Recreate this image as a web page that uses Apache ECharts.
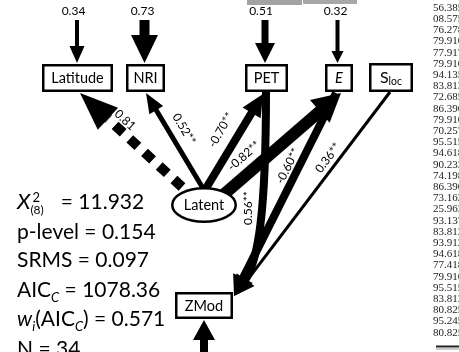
<!DOCTYPE html>
<html><head><meta charset="utf-8">
<script src="https://cdn.jsdelivr.net/npm/echarts@6/dist/echarts.min.js"></script>
<style>html,body{margin:0;padding:0;background:#fff}#c{width:459px;height:352px}</style>
</head><body><div id="c"></div>
<script>
// ---------------- values ----------------
const variables = ['Latitude', 'NRI', 'PET', 'E', 'Sloc', 'Latent', 'ZMod'];
const residualVars = ['Latitude', 'NRI', 'PET', 'E'];
const residualValues = [0.34, 0.73, 0.51, 0.32];
const pathFrom = ['Latent', 'Latent', 'Latent', 'Latent', 'PET', 'E', 'Sloc'];
const pathTo   = ['Latitude', 'NRI', 'PET', 'E', 'ZMod', 'ZMod', 'ZMod'];
const pathCoef = ['0.81', '0.52', '-0.70', '-0.82', '0.56', '-0.60', '0.36'];
const pathSig  = ['', '**', '**', '**', '**', '**', '**'];
const chiDf = 8;
const fitValues = ['11.932', '0.154', '0.097', '1078.36', '0.571', '34'];
const sideValues = ['56.385','08.575','76.278','79.910','77.917','79.910','94.135','83.813','72.685','86.390',
  '79.910','70.257','95.515','94.618','90.233','74.198','86.390','73.162','25.963','93.137','83.813','93.912',
  '94.618','77.418','79.910','95.515','83.813','80.825','95.245','80.825'];

// ---------------- layout (diagram plane, 459 x 352 units) ----------------
const nodeLayout = {
  Latitude: {kind: 'box', cx: 77.5, cy: 78, w: 71, h: 28},
  NRI:      {kind: 'box', cx: 145.5, cy: 78, w: 39, h: 28},
  PET:      {kind: 'box', cx: 266.5, cy: 78, w: 43, h: 28},
  E:        {kind: 'box', cx: 339, cy: 78, w: 28, h: 28},
  Sloc:     {kind: 'box', cx: 391, cy: 77.5, w: 44, h: 29},
  Latent:   {kind: 'ellipse', cx: 204, cy: 205, rx: 33, ry: 18},
  ZMod:     {kind: 'box', cx: 204, cy: 305.5, w: 58, h: 27}
};
const pathGeom = [
  {from: [182, 187], to: [80, 93], lw: 10, head: [38, 30], dash: [11, 9], label: [125, 120], rot: -43},
  {from: [204, 190], to: [146, 93], lw: 5, head: [20, 16], label: [184, 129], rot: -59},
  {from: [205, 190], to: [263, 94], lw: 8, head: [22, 21], label: [221, 130], rot: 60},
  {from: [222, 196], to: [341, 93], lw: 12, head: [28, 30], label: [244, 156], rot: 41},
  {from: [266, 92], c1: [266, 215], c2: [258, 262], to: [234, 296], lw: 8, head: [20, 22], label: [248, 208], rot: 90},
  {from: [336, 93], to: [234, 296], lw: 8, head: [20, 22], label: [288, 166], rot: 63},
  {from: [390, 92], to: [236, 295], lw: 3, head: [16, 14], label: [328, 158], rot: 53}
];
const residualGeom = [
  {x: 77, y0: 20, y1: 63, lw: 4, head: [17, 15], lx: 73.5},
  {x: 144.5, y0: 20, y1: 63, lw: 10, head: [28, 27], lx: 142.5},
  {x: 265, y0: 20, y1: 63, lw: 7, head: [20, 20], lx: 261},
  {x: 337.5, y0: 20, y1: 63, lw: 4, head: [12, 12], lx: 335.5}
];
const zmodInput = {from: [204, 370], to: [204, 320], lw: 8, head: [20, 22]};

const FONT = 'Lato';
const mctx = document.createElement('canvas').getContext('2d');
function fontStr(size, italic) { return (italic ? 'italic ' : '') + size + 'px ' + FONT; }
function measure(t, size, italic) { mctx.font = fontStr(size, italic); return mctx.measureText(t).width; }

function arrow(api, g) {
  const P = p => api.coord(p);
  const tip = P(g.to), start = P(g.from);
  const ref = g.c2 ? P(g.c2) : start;
  const dx = tip[0] - ref[0], dy = tip[1] - ref[1], L = Math.hypot(dx, dy);
  const ux = dx / L, uy = dy / L, nx = -uy, ny = ux;
  const hl = g.head[0], hw = g.head[1];
  const base = [tip[0] - ux * hl, tip[1] - uy * hl];
  const end = g.dash ? base : [base[0] + ux * 2, base[1] + uy * 2];
  const st = {stroke: '#000', lineWidth: g.lw, fill: 'none', lineCap: 'butt'};
  if (g.dash) st.lineDash = g.dash;
  const kids = [];
  if (g.c1) {
    const c1 = P(g.c1), c2 = P(g.c2);
    kids.push({type: 'bezierCurve', shape: {x1: start[0], y1: start[1], cpx1: c1[0], cpy1: c1[1], cpx2: c2[0], cpy2: c2[1], x2: end[0], y2: end[1]}, style: st});
  } else {
    kids.push({type: 'line', shape: {x1: start[0], y1: start[1], x2: end[0], y2: end[1]}, style: st});
  }
  kids.push({type: 'polygon', shape: {points: [tip, [base[0] + nx * hw / 2, base[1] + ny * hw / 2], [base[0] - nx * hw / 2, base[1] - ny * hw / 2]]}, style: {fill: '#000'}});
  return kids;
}

function txt(t, x, y, size, italic, align, extra) {
  return Object.assign({type: 'text', style: {text: t, x: x, y: y, font: fontStr(size, italic), fill: '#000',
    align: align || 'left', verticalAlign: 'middle', textAlign: align || 'left', textVerticalAlign: 'middle'}}, extra || {});
}

// text run on a baseline: pieces {t,size,it,dy,dx} or {stack:[...]}
function run(pieces, x0, baseline) {
  let x = x0; const els = [];
  pieces.forEach(p => {
    if (p.stack) {
      let mw = 0;
      p.stack.forEach(q => {
        els.push(txt(q.t, x + (q.dx || 0), baseline + (q.dy || 0) - 0.35 * q.size, q.size, q.it));
        mw = Math.max(mw, measure(q.t, q.size, q.it) + (q.dx || 0));
      });
      x += mw;
    } else {
      x += (p.dx || 0);
      els.push(txt(p.t, x, baseline + (p.dy || 0) - 0.35 * p.size, p.size, p.it));
      x += measure(p.t, p.size, p.it);
    }
  });
  return els;
}

const S = 21;
function statLines() {
  return [
    {b: 210, p: [{t: 'X', size: 22, it: true}, {stack: [{t: '2', size: 13, dy: -8, dx: 2}, {t: '(' + chiDf + ')', size: 12, dy: 4}]}, {t: '= ' + fitValues[0], size: S, dx: 17}]},
    {b: 240, p: [{t: 'p-level = ' + fitValues[1], size: S}]},
    {b: 268, p: [{t: 'SRMS = ' + fitValues[2], size: S}]},
    {b: 298, p: [{t: 'AIC', size: S}, {t: 'C', size: 13, it: true, dy: 4}, {t: ' = ' + fitValues[3], size: S}]},
    {b: 327, p: [{t: 'w', size: S, it: true}, {t: 'i', size: 13, it: true, dy: 4}, {t: '(AIC', size: S}, {t: 'C', size: 13, it: true, dy: 4}, {t: ') = ' + fitValues[4], size: S}]},
    {b: 357, p: [{t: 'N = ' + fitValues[5], size: S}]}
  ];
}

const chart = echarts.init(document.getElementById('c'), null, {renderer: 'canvas'});
const option = {
  animation: false,
  grid: {left: 0, right: 0, top: 0, bottom: 0},
  xAxis: {type: 'value', min: 0, max: 459, show: false},
  yAxis: {type: 'value', min: 0, max: 352, inverse: true, show: false},
  series: [
    { // paths
      type: 'custom', z: 2, silent: true, coordinateSystem: 'cartesian2d',
      data: pathFrom.map((f, i) => [i, 0]),
      renderItem: function (params, api) {
        const i = params.dataIndex, g = pathGeom[i];
        const kids = arrow(api, g);
        const lp = api.coord(g.label);
        kids.push({type: 'text', x: lp[0], y: lp[1], rotation: g.rot * Math.PI / 180,
          style: {text: pathCoef[i] + pathSig[i], x: 0, y: 0, font: fontStr(12), fill: '#000', align: 'center', verticalAlign: 'middle', textAlign: 'center', textVerticalAlign: 'middle'}});
        return {type: 'group', children: kids};
      }
    },
    { // residual arrows + ZMod input
      type: 'custom', z: 2, silent: true, coordinateSystem: 'cartesian2d',
      data: residualVars.map((v, i) => [i, 0]).concat([[residualVars.length, 0]]),
      renderItem: function (params, api) {
        const i = params.dataIndex;
        if (i === residualVars.length) return {type: 'group', children: arrow(api, zmodInput)};
        const g = residualGeom[i];
        const kids = arrow(api, {from: [g.x, g.y0], to: [g.x, g.y1], lw: g.lw, head: g.head});
        const lp = api.coord([g.lx, 11]);
        kids.push(txt(residualValues[i].toFixed(2), lp[0], lp[1], 12, false, 'center'));
        return {type: 'group', children: kids};
      }
    },
    { // nodes
      type: 'custom', z: 3, silent: true, coordinateSystem: 'cartesian2d',
      data: variables.map((v, i) => [i, 0]),
      renderItem: function (params, api) {
        const name = variables[params.dataIndex], n = nodeLayout[name];
        const c = api.coord([n.cx, n.cy]);
        const kids = [];
        const lw = 2.5;
        if (n.kind === 'ellipse') {
          kids.push({type: 'ellipse', shape: {cx: c[0], cy: c[1], rx: n.rx - lw / 2, ry: n.ry - lw / 2}, style: {fill: '#fff', stroke: '#000', lineWidth: lw}});
        } else {
          kids.push({type: 'rect', shape: {x: c[0] - n.w / 2 + lw / 2, y: c[1] - n.h / 2 + lw / 2, width: n.w - lw, height: n.h - lw}, style: {fill: '#fff', stroke: '#000', lineWidth: lw}});
        }
        if (name === 'Sloc') {
          kids.push({type: 'text', style: {text: '{a|S}{b|loc}', x: c[0], y: c[1], align: 'center', verticalAlign: 'middle', textAlign: 'center', textVerticalAlign: 'middle',
            rich: {a: {fontFamily: FONT, fontSize: 16, lineHeight: 20, verticalAlign: 'middle', fill: '#000', color: '#000'},
                   b: {fontFamily: FONT, fontSize: 10.5, lineHeight: 20, verticalAlign: 'bottom', fill: '#000', color: '#000'}}}});
        } else {
          kids.push(txt(name, c[0], c[1] + 0.5, 14.5, name === 'E', 'center'));
        }
        return {type: 'group', children: kids};
      }
    },
    { // fit statistics
      type: 'custom', z: 4, silent: true, coordinateSystem: 'cartesian2d',
      data: fitValues.map((v, i) => [i, 0]),
      renderItem: function (params, api) {
        const L = statLines()[params.dataIndex];
        const p = api.coord([17, L.b]);
        return {type: 'group', children: run(L.p, p[0], p[1])};
      }
    },
    { // clipped side column of the source page
      type: 'custom', z: 1, silent: true, coordinateSystem: 'cartesian2d',
      data: sideValues.map((v, i) => [i, 0]).concat([[sideValues.length, 0]]),
      renderItem: function (params, api) {
        const i = params.dataIndex;
        if (i === sideValues.length) {
          const a = api.coord([436, 346.5]), b = api.coord([459, 346.5]);
          return {type: 'group', children: [
            {type: 'line', shape: {x1: a[0], y1: a[1], x2: b[0], y2: b[1]}, style: {stroke: '#222', lineWidth: 2}},
            {type: 'line', shape: {x1: a[0], y1: a[1] + 2.5, x2: b[0], y2: b[1] + 2.5}, style: {stroke: '#999', lineWidth: 1}},
            {type: 'rect', shape: {x: 247, y: 0, width: 55, height: 5}, style: {fill: '#a3a3a3'}},
            {type: 'rect', shape: {x: 303, y: 0, width: 54, height: 4}, style: {fill: '#a8a8a8'}}
          ]};
        }
        const p = api.coord([433, 8 + i * 11.2]);
        return {type: 'text', style: {text: sideValues[i], x: p[0], y: p[1], font: '11px "Liberation Serif"', fill: '#222',
          align: 'left', verticalAlign: 'middle', textAlign: 'left', textVerticalAlign: 'middle'}};
      }
    }
  ]
};
chart.setOption(option);
</script></body></html>
